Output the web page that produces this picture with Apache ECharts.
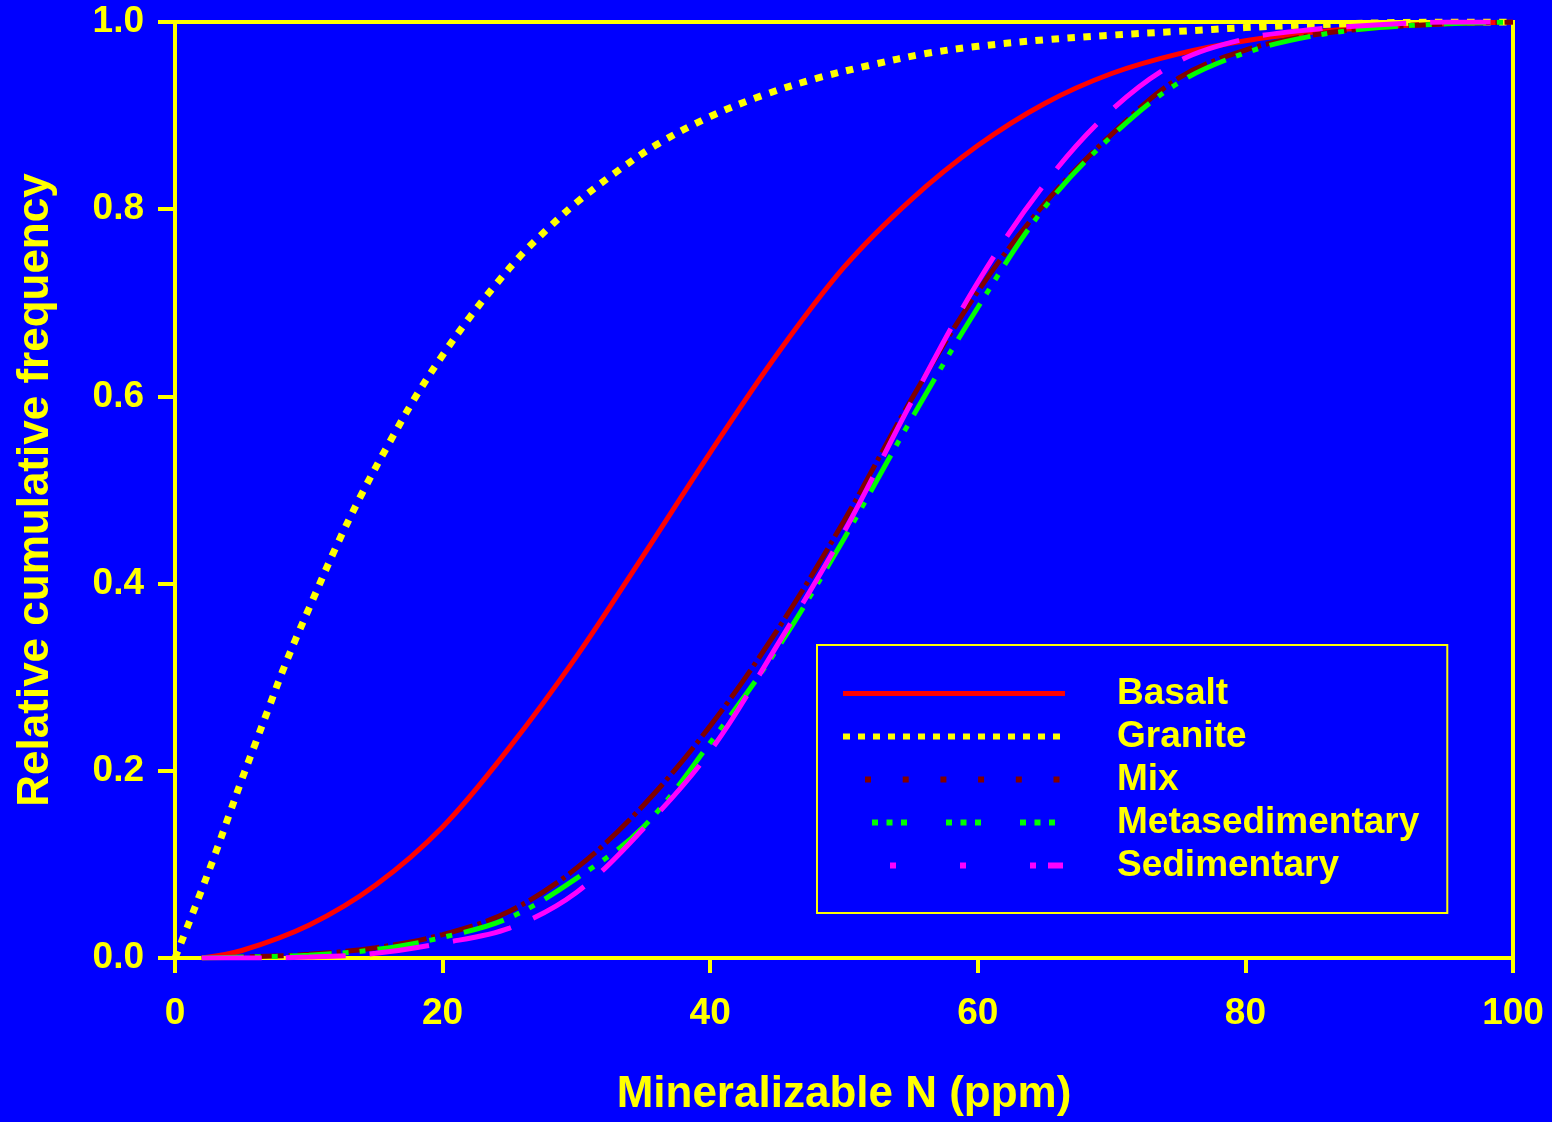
<!DOCTYPE html>
<html>
<head>
<meta charset="utf-8">
<title>Mineralizable N cumulative frequency</title>
<script src="https://cdn.jsdelivr.net/npm/echarts@6/dist/echarts.min.js"></script>
<style>
  html, body { margin: 0; padding: 0; background: #0000ff; }
  #chart { width: 1552px; height: 1122px; }
</style>
</head>
<body>
<div id="chart"></div>
<script>
// values
const basaltX = [2, 5, 10, 15, 20, 25, 30, 35, 40, 45, 50, 55, 60, 65, 70, 75, 80, 85, 90, 95, 100]
const basaltY = [0, 0.008, 0.035, 0.078, 0.140, 0.225, 0.322, 0.430, 0.540, 0.645, 0.738, 0.810, 0.868, 0.913, 0.945, 0.966, 0.980, 0.989, 0.995, 0.998, 1.0]

const graniteX = [0, 1, 2, 3, 4, 5, 6, 7, 8, 9, 10, 12, 14, 16, 18, 20, 22, 24, 26, 28, 30, 33, 36, 40, 44, 48, 52, 56, 60, 65, 70, 75, 80, 85, 90, 95, 100]
const graniteY = [0, 0.036, 0.073, 0.111, 0.151, 0.191, 0.229, 0.267, 0.305, 0.340, 0.373, 0.438, 0.497, 0.550, 0.600, 0.644, 0.684, 0.720, 0.753, 0.781, 0.807, 0.840, 0.869, 0.899, 0.922, 0.940, 0.954, 0.966, 0.974, 0.981, 0.986, 0.990, 0.994, 0.997, 0.999, 1.0, 1.0]

const sedX = [2, 5, 10, 15, 20, 25, 30, 35, 40, 45, 50, 55, 60, 65, 70, 75, 80, 85, 90, 95, 100]
const mixY = [0, 0.001, 0.004, 0.011, 0.025, 0.050, 0.096, 0.163, 0.248, 0.350, 0.467, 0.596, 0.712, 0.806, 0.880, 0.940, 0.970, 0.986, 0.994, 0.998, 1.0]
const metaY = [0, 0.001, 0.003, 0.009, 0.022, 0.043, 0.085, 0.140, 0.230, 0.330, 0.448, 0.575, 0.695, 0.802, 0.878, 0.935, 0.967, 0.985, 0.994, 0.998, 1.0]
const sedimentaryY = [0, 0, 0.001, 0.005, 0.016, 0.032, 0.070, 0.138, 0.221, 0.334, 0.455, 0.593, 0.722, 0.827, 0.906, 0.958, 0.982, 0.992, 0.997, 1.0, 1.0]

const seriesNames = ['Basalt', 'Granite', 'Mix', 'Metasedimentary', 'Sedimentary']

const YELLOW = '#ffff00'
const FONT = 'Liberation Sans, Arial, sans-serif'

const pairs = (xs, ys) => xs.map((x, i) => [x, ys[i]])

function lineSeries(name, xs, ys, color, width, dash) {
  return {
    name,
    type: 'line',
    data: pairs(xs, ys),
    symbol: 'none',
    smooth: 0.35,
    lineStyle: { color, width, type: dash, cap: 'butt' },
    itemStyle: { color },
    emphasis: { disabled: true },
    animation: false,
  }
}

const chart = echarts.init(document.getElementById('chart'))
chart.setOption({
  backgroundColor: '#0000ff',
  animation: false,
  grid: {
    left: 175, right: 39, top: 22, bottom: 162,
    show: true, borderColor: YELLOW, borderWidth: 4, backgroundColor: 'transparent',
  },
  xAxis: {
    type: 'value', min: 0, max: 100, interval: 20,
    name: 'Mineralizable N (ppm)', nameLocation: 'middle', nameGap: 115,
    nameTextStyle: { color: YELLOW, fontSize: 44, fontWeight: 'bold', fontFamily: FONT },
    axisLine: { lineStyle: { color: YELLOW, width: 4 } },
    axisTick: { show: true, length: 15, lineStyle: { color: YELLOW, width: 4 } },
    axisLabel: { color: YELLOW, fontSize: 37, fontWeight: 'bold', fontFamily: FONT, margin: 37 },
    splitLine: { show: false },
  },
  yAxis: {
    type: 'value', min: 0, max: 1, interval: 0.2,
    name: 'Relative cumulative frequency', nameLocation: 'middle', nameGap: 117, nameRotate: 90,
    nameTextStyle: { color: YELLOW, fontSize: 44, fontWeight: 'bold', fontFamily: FONT },
    axisLine: { lineStyle: { color: YELLOW, width: 4 } },
    axisTick: { show: true, length: 17, lineStyle: { color: YELLOW, width: 4 } },
    axisLabel: {
      color: YELLOW, fontSize: 37, fontWeight: 'bold', fontFamily: FONT, margin: 31,
      formatter: (v) => v.toFixed(1),
    },
    splitLine: { show: false },
  },
  legend: {
    orient: 'vertical',
    left: 817, top: 645,
    padding: [30, 28, 29, 23],
    borderColor: YELLOW, borderWidth: 2,
    itemWidth: 222, itemHeight: 14, itemGap: 6,
    selectedMode: false,
    itemStyle: { opacity: 0 },
    textStyle: {
      color: YELLOW, fontSize: 37, fontWeight: 'bold', fontFamily: FONT,
      lineHeight: 37, padding: [0, 0, 0, 47],
    },
    data: [
      { name: seriesNames[0], lineStyle: { width: 5, type: 'solid' } },
      { name: seriesNames[1], lineStyle: { width: 6, type: [7, 8], cap: 'butt' } },
      { name: seriesNames[2], lineStyle: { width: 6, type: [0, 22, 6, 31.7, 6, 31.7, 6, 31.7, 6, 31.7, 6, 31.7, 6, 100], cap: 'butt' } },
      { name: seriesNames[3], lineStyle: { width: 6, type: [0, 29, 6, 8.5, 6, 8.5, 6, 39, 6, 8.5, 6, 8.5, 6, 39, 6, 8.5, 6, 8.5, 6, 100], cap: 'butt' } },
      { name: seriesNames[4], lineStyle: { width: 6, type: [0, 47, 6, 64, 6, 64, 6, 12, 15, 100], cap: 'butt' } },
    ],
  },
  series: [
    lineSeries(seriesNames[0], basaltX, basaltY, '#ff0000', 5, 'solid'),
    lineSeries(seriesNames[1], graniteX, graniteY, YELLOW, 7, [7.5, 8.5]),
    lineSeries(seriesNames[2], sedX, mixY, '#800000', 5, [34, 5, 4, 5]),
    lineSeries(seriesNames[3], sedX, metaY, '#00ff00', 5, [42, 11, 6, 11, 6, 12]),
    lineSeries(seriesNames[4], sedX, sedimentaryY, '#ff00ff', 5, [60, 24]),
  ],
})
</script>
</body>
</html>
